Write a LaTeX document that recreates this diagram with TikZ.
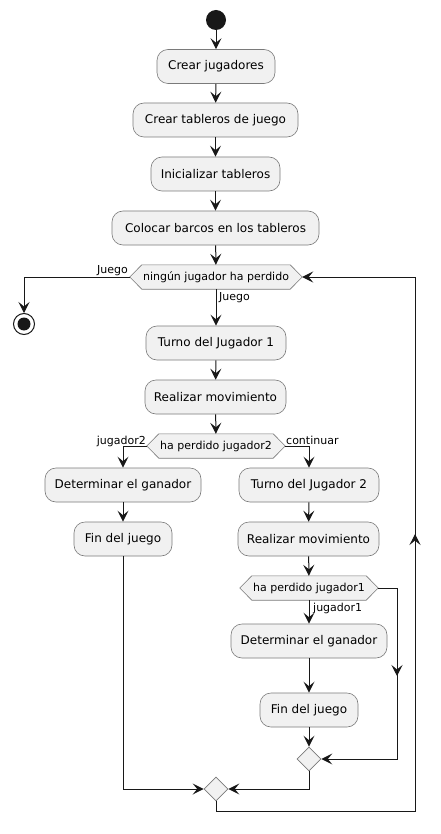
\documentclass[tikz,border=0pt]{standalone}
\usepackage{fontspec}
\setmainfont{DejaVu Sans}
\usetikzlibrary{arrows.meta,calc,shapes.geometric,backgrounds}
\definecolor{actfill}{HTML}{F1F1F1}
\definecolor{actline}{HTML}{7A7A7A}
\definecolor{ink}{HTML}{181818}
\newcommand{\hexbg}[1]{%
  \begin{scope}[on background layer]
  \draw[hexshape] (#1.west) -- ($(#1.north west)+(12,0)$) -- ($(#1.north east)+(-12,0)$) -- (#1.east) -- ($(#1.south east)+(-12,0)$) -- ($(#1.south west)+(12,0)$) -- cycle;
  \end{scope}}
\begin{document}
\begin{tikzpicture}[x=1pt,y=-1pt,
  act/.style={draw=actline, fill=actfill, line width=0.6pt, rounded corners=11pt, minimum height=34pt, inner sep=0pt, font=\fontsize{12}{14}\selectfont},
  hexn/.style={minimum height=24pt, inner sep=0pt, font=\fontsize{11}{13}\selectfont},
  hexshape/.style={draw=actline, fill=actfill, line width=0.6pt},
  merge/.style={diamond, aspect=1, draw=actline, fill=actfill, line width=0.6pt, minimum width=24pt, minimum height=24pt, inner sep=0pt},
  flow/.style={draw=ink, line width=1pt, -{Stealth[length=11pt,width=11pt,inset=4.5pt]}},
  lbl/.style={font=\fontsize{11}{13}\selectfont, inner sep=0pt, text=black}
]
\useasboundingbox (0,0) rectangle (440,834);
\begin{scope}[on background layer]
\fill[white] (0,0) rectangle (440,834);
\end{scope}

\node[circle, fill=ink, minimum size=20pt, inner sep=0pt] (start) at (216,20) {};
\node[act, minimum width=118pt] (a1) at (216,66.5) {Crear jugadores};
\node[act, minimum width=165pt] (a2) at (215.5,120) {Crear tableros de juego};
\node[act, minimum width=129pt] (a3) at (215.5,174) {Inicializar tableros};
\node[act, minimum width=207pt] (a4) at (215.5,228) {Colocar barcos en los tableros};

\node[hexn, minimum width=172pt] (h1) at (216,277) {ningún jugador ha perdido};
\hexbg{h1}

\node[circle, draw=ink, line width=1pt, fill=white, minimum size=21pt, inner sep=0pt] (stop) at (24,324) {};
\fill[ink] (stop.center) circle (6.5);

\node[act, minimum width=140pt] (b1) at (216,343) {Turno del Jugador 1};
\node[act, minimum width=141pt] (b2) at (215.5,397) {Realizar movimiento};

\node[hexn, minimum width=138pt] (h2) at (216,446) {ha perdido jugador2};
\hexbg{h2}

\node[act, minimum width=156pt] (l1) at (123,485) {Determinar el ganador};
\node[act, minimum width=98pt] (l2) at (123,539) {Fin del juego};

\node[act, minimum width=140pt] (r1) at (309,485) {Turno del Jugador 2};
\node[act, minimum width=141pt] (r2) at (308.5,539) {Realizar movimiento};

\node[hexn, minimum width=138pt] (h3) at (309,588) {ha perdido jugador1};
\hexbg{h3}

\node[act, minimum width=156pt] (r3) at (309,641) {Determinar el ganador};
\node[act, minimum width=98pt] (r4) at (309,710) {Fin del juego};

\node[merge] (d1) at (309,759) {};
\node[merge] (d2) at (216,789) {};

\coordinate (m1) at (397,588);
\coordinate (m2) at (397,759);
\coordinate (m3) at (397,676);
\coordinate (lp2) at (415,811);
\coordinate (lp3) at (415,534);
\coordinate (lp4) at (415,277);

% connectors
\draw[flow] (start) -- (a1);
\draw[flow] (a1) -- (a2);
\draw[flow] (a2) -- (a3);
\draw[flow] (a3) -- (a4);
\draw[flow] (a4) -- (h1);
\draw[flow] (h1.west) -| (stop);
\node[lbl, anchor=base east] at (128,273) {Juego};
\draw[flow] (h1) -- (b1);
\node[lbl, anchor=base west] at (219,300) {Juego};
\draw[flow] (b1) -- (b2);
\draw[flow] (b2) -- (h2);
\draw[flow] (h2.west) -| (l1);
\node[lbl, anchor=base east] at (146,444) {jugador2};
\draw[flow] (h2.east) -| (r1);
\node[lbl, anchor=base west] at (286,444) {continuar};
\draw[flow] (l1) -- (l2);
\draw[flow] (r1) -- (r2);
\draw[flow] (r2) -- (h3);
\draw[flow] (h3) -- (r3);
\node[lbl, anchor=base west] at (313,611) {jugador1};
\draw[flow] (r3) -- (r4);
\draw[flow] (r4) -- (d1);
\draw[flow] (h3.east) -| (m2) -- (d1.east);
\draw[flow] (m1) -- (m3);
\draw[flow] (l2) |- (d2.west);
\draw[flow] (d1) |- (d2.east);
\draw[flow] (d2.south) |- (lp2) -- (lp4) -- (h1.east);
\draw[flow] (lp2) -- (lp3);
\end{tikzpicture}
\end{document}
